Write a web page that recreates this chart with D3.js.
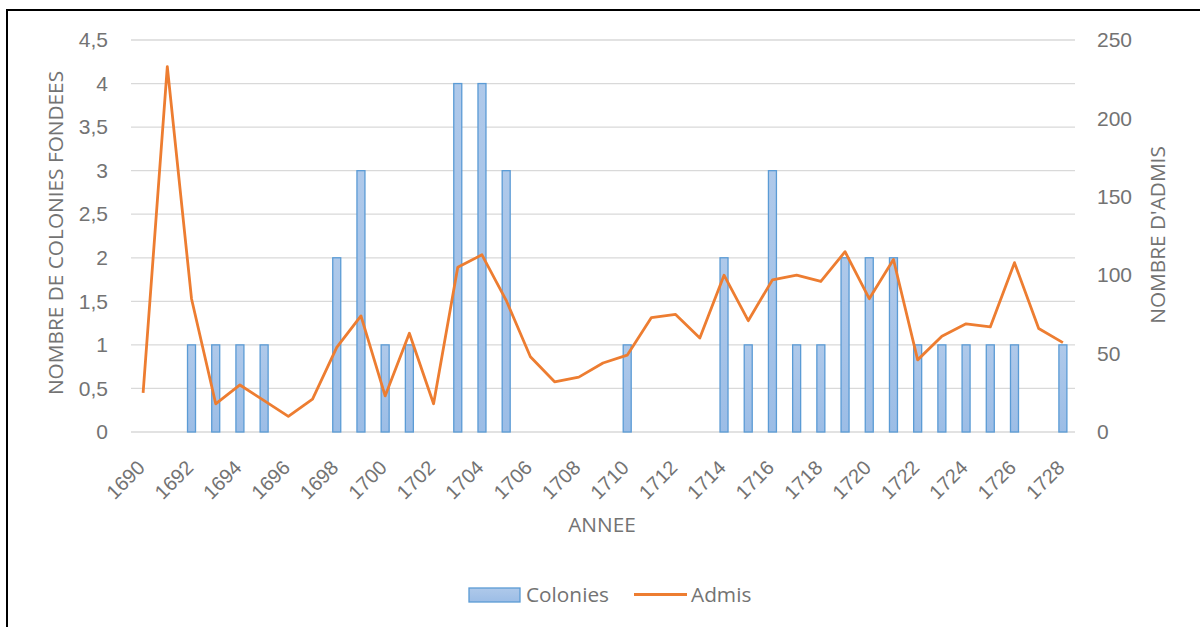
<!DOCTYPE html>
<html>
<head>
<meta charset="utf-8">
<script src="https://cdn.jsdelivr.net/npm/d3@7"></script>
<style>
  body { margin: 0; background: #fff; }
  svg { display: block; font-family: "Open Sans", Lato, sans-serif; }
  .tick text { fill: #737373; }
</style>
</head>
<body>
<div id="chart"></div>
<script>
// données
const years = d3.range(1690, 1729);
const colonies = [0,0,1,1,1,1,0,0,2,3,1,1,0,4,4,3,0,0,0,0,1,0,0,0,2,1,3,1,1,2,2,2,1,1,1,1,1,0,1];
const admis = [25,233,85,18,30,20,10,21,54,74,23,63,18,105,113,84,48,32,35,44,49,73,75,60,100,71,97,100,96,115,85,110,46,61,69,67,108,66,57];
const leftTicks = d3.range(0, 4.51, 0.5);
const rightTicks = [0, 50, 100, 150, 200, 250];
const xTickYears = years.filter(y => (y - 1690) % 2 === 0);

const W = 1200, H = 627;
const plot = { left: 131, right: 1075, top: 40, bottom: 432 };
const txt = '#737373';

const svg = d3.select('#chart').append('svg')
    .attr('width', W).attr('height', H);

// cadre
svg.append('path')
    .attr('d', `M7,${H} V10 H${W}`)
    .attr('fill', 'none').attr('stroke', '#000').attr('stroke-width', 2);

const x = d3.scaleBand().domain(years).range([plot.left, plot.right]);
const yL = d3.scaleLinear().domain([0, 4.5]).range([plot.bottom, plot.top]);
const yR = d3.scaleLinear().domain([0, 250]).range([plot.bottom, plot.top]);
const fmt = d => String(d).replace('.', ',');

// grille
svg.append('g')
    .selectAll('line').data(leftTicks).enter().append('line')
    .attr('x1', plot.left).attr('x2', plot.right)
    .attr('y1', d => yL(d)).attr('y2', d => yL(d))
    .attr('stroke', '#d9d9d9').attr('stroke-width', 1.3);

// axe gauche
const gL = svg.append('g').attr('transform', `translate(${plot.left},0)`)
    .call(d3.axisLeft(yL).tickValues(leftTicks).tickFormat(fmt).tickSize(0).tickPadding(23));
gL.select('.domain').remove();
gL.selectAll('text').attr('font-size', 21);

// axe droit
const gR = svg.append('g').attr('transform', `translate(${plot.right},0)`)
    .call(d3.axisRight(yR).tickValues(rightTicks).tickSize(0).tickPadding(22));
gR.select('.domain').remove();
gR.selectAll('text').attr('font-size', 21);

// axe x
const gX = svg.append('g').attr('transform', `translate(0,${plot.bottom})`)
    .call(d3.axisBottom(x).tickValues(xTickYears).tickSize(0).tickPadding(0));
gX.select('.domain').remove();
gX.selectAll('text')
    .attr('font-size', 20)
    .attr('text-anchor', 'end')
    .attr('y', 0)
    .attr('dy', 0)
    .attr('transform', 'translate(3,37) rotate(-45)');

// titres
svg.append('text')
    .attr('transform', `translate(63,233) rotate(-90)`)
    .attr('text-anchor', 'middle').attr('font-size', 20.8).attr('fill', txt)
    .text('NOMBRE DE COLONIES FONDEES');
svg.append('text')
    .attr('transform', `translate(1165,235) rotate(-90)`)
    .attr('text-anchor', 'middle').attr('font-size', 20.8).attr('fill', txt)
    .text("NOMBRE D'ADMIS");
svg.append('text')
    .attr('x', 602).attr('y', 532)
    .attr('text-anchor', 'middle').attr('font-size', 20.8).attr('fill', txt)
    .text('ANNEE');

// dégradé des barres
const grad = svg.append('defs').append('linearGradient')
    .attr('id', 'barGrad').attr('x1', 0).attr('x2', 0).attr('y1', 0).attr('y2', 1);
grad.append('stop').attr('offset', '0%').attr('stop-color', '#afc9ea');
grad.append('stop').attr('offset', '100%').attr('stop-color', '#9cbde6');

// barres
const barW = 8;
svg.append('g').selectAll('rect')
    .data(years.map((y, i) => ({ year: y, v: colonies[i] })).filter(d => d.v > 0))
    .enter().append('rect')
    .attr('x', d => x(d.year) + x.bandwidth() / 2 - barW / 2)
    .attr('y', d => yL(d.v))
    .attr('width', barW)
    .attr('height', d => yL(0) - yL(d.v))
    .attr('fill', 'url(#barGrad)')
    .attr('stroke', '#5b9bd5').attr('stroke-width', 1.3);

// courbe
const line = d3.line()
    .x((d, i) => x(years[i]) + x.bandwidth() / 2)
    .y(d => yR(d));
svg.append('path')
    .datum(admis)
    .attr('d', line)
    .attr('fill', 'none')
    .attr('stroke', '#ed7d31').attr('stroke-width', 2.8)
    .attr('stroke-linejoin', 'round');

// légende
const lg = svg.append('g');
lg.append('rect').attr('x', 469).attr('y', 588).attr('width', 51).attr('height', 14)
    .attr('fill', 'url(#barGrad)').attr('stroke', '#5b9bd5').attr('stroke-width', 1.3);
lg.append('text').attr('x', 526).attr('y', 602)
    .attr('font-size', 20.8).attr('fill', txt).text('Colonies');
lg.append('line').attr('x1', 634).attr('x2', 687).attr('y1', 594.5).attr('y2', 594.5)
    .attr('stroke', '#ed7d31').attr('stroke-width', 2.8);
lg.append('text').attr('x', 691).attr('y', 602)
    .attr('font-size', 20.8).attr('fill', txt).text('Admis');
</script>
</body>
</html>
